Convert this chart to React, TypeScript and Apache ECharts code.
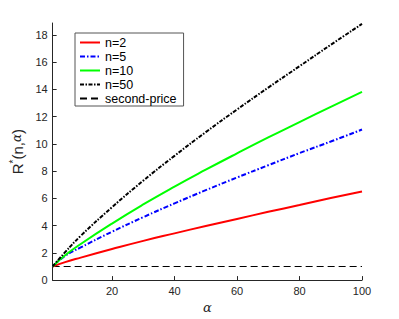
import React, { useEffect, useRef } from "react";
import * as echarts from "echarts";

const alpha = [1, 5, 10, 20, 30, 40, 50, 60, 70, 80, 90, 100];
const n2 = [1, 1.32, 1.65, 2.28, 2.88, 3.43, 3.97, 4.49, 5.01, 5.51, 6.02, 6.51];
const n5 = [1, 1.78, 2.4, 3.55, 4.62, 5.63, 6.6, 7.53, 8.43, 9.32, 10.17, 11.05];
const n10 = [1, 1.82, 2.65, 4.15, 5.55, 6.86, 8.1, 9.3, 10.47, 11.6, 12.72, 13.81];
const n50 = [1, 2.05, 3.25, 5.35, 7.3, 9.12, 10.86, 12.52, 14.13, 15.7, 17.27, 18.8];
const secondPrice = [1, 1, 1, 1, 1, 1, 1, 1, 1, 1, 1, 1];

const xTicks = [20, 40, 60, 80, 100];
const yTicks = [0, 2, 4, 6, 8, 10, 12, 14, 16, 18];
const seriesNames = ["n=2", "n=5", "n=10", "n=50", "second-price"];

const pairs = (ys: number[]) => alpha.map((a, i) => [a, ys[i]]);

export default function App() {
  const ref = useRef<HTMLDivElement>(null);
  useEffect(() => {
    if (!ref.current) return;
    const chart = echarts.init(ref.current, undefined, { renderer: "svg" });
    const axisColor = "#262626";
    const font = "Liberation Sans, Arial, sans-serif";
    chart.setOption({
      animation: false,
      backgroundColor: "#ffffff",
      grid: { left: 52, right: 37, top: 23, bottom: 36 },
      legend: {
        orient: "vertical",
        left: 75,
        top: 33,
        padding: [3, 7, 1, 4],
        itemWidth: 20,
        itemHeight: 12,
        itemGap: 1,
        borderColor: "#555555",
        borderWidth: 1,
        data: seriesNames,
        itemStyle: { opacity: 0 },
        textStyle: { fontFamily: font, fontSize: 12.5, color: "#000", lineHeight: 12 },
      },
      xAxis: {
        type: "value",
        min: 1,
        max: 100,
        name: "α",
        nameLocation: "middle",
        nameGap: 17,
        nameTextStyle: { fontFamily: "DejaVu Serif, serif", fontStyle: "italic", fontSize: 13, color: axisColor },
        axisLine: { lineStyle: { color: axisColor, width: 1 } },
        axisTick: { inside: true, length: 4, customValues: xTicks, lineStyle: { color: axisColor } },
        axisLabel: { customValues: xTicks, color: axisColor, fontFamily: font, fontSize: 11, margin: 5 },
        splitLine: { show: false },
      },
      yAxis: {
        type: "value",
        min: 0,
        max: 18.87,
        name: "{a|R}{s|*}{a|(n,}{g|α}{a|)}",
        nameLocation: "middle",
        nameRotate: 90,
        nameGap: 16,
        nameTextStyle: {
          color: axisColor,
          rich: {
            a: { fontFamily: font, fontSize: 15, color: axisColor },
            s: { fontFamily: font, fontSize: 10, color: axisColor, verticalAlign: "top", padding: [0, 0, 8, 0] },
            g: { fontFamily: "DejaVu Serif, serif", fontStyle: "italic", fontSize: 12, color: axisColor },
          },
        },
        axisLine: { show: true, lineStyle: { color: axisColor, width: 1 } },
        axisTick: { show: true, inside: true, length: 4, customValues: yTicks, lineStyle: { color: axisColor } },
        axisLabel: { customValues: yTicks, color: axisColor, fontFamily: font, fontSize: 11, margin: 5 },
        splitLine: { show: false },
      },
      series: [
        {
          name: "n=2",
          type: "line",
          data: pairs(n2),
          smooth: true,
          symbol: "none",
          lineStyle: { color: "#ff0000", width: 2, type: "solid" },
          itemStyle: { color: "#ff0000" },
          z: 3,
        },
        {
          name: "n=5",
          type: "line",
          data: pairs(n5),
          smooth: true,
          symbol: "none",
          lineStyle: { color: "#0000ff", width: 2, type: [5, 2, 1.5, 2] },
          itemStyle: { color: "#0000ff" },
          z: 3,
        },
        {
          name: "n=10",
          type: "line",
          data: pairs(n10),
          smooth: true,
          symbol: "none",
          lineStyle: { color: "#00ff00", width: 2, type: "solid" },
          itemStyle: { color: "#00ff00" },
          z: 3,
        },
        {
          name: "n=50",
          type: "line",
          data: pairs(n50),
          smooth: true,
          symbol: "none",
          lineStyle: { color: "#000000", width: 2, type: [4, 1.5, 1.5, 1.5] },
          itemStyle: { color: "#000000" },
          z: 3,
        },
        {
          name: "second-price",
          type: "line",
          data: pairs(secondPrice),
          symbol: "none",
          lineStyle: { color: "#000000", width: 1.2, type: [7, 4] },
          itemStyle: { color: "#000000" },
          z: 2,
        },
      ],
    });
    return () => chart.dispose();
  }, []);
  return <div ref={ref} style={{ width: 399, height: 319, position: "absolute", left: 0, top: 0 }} />;
}
